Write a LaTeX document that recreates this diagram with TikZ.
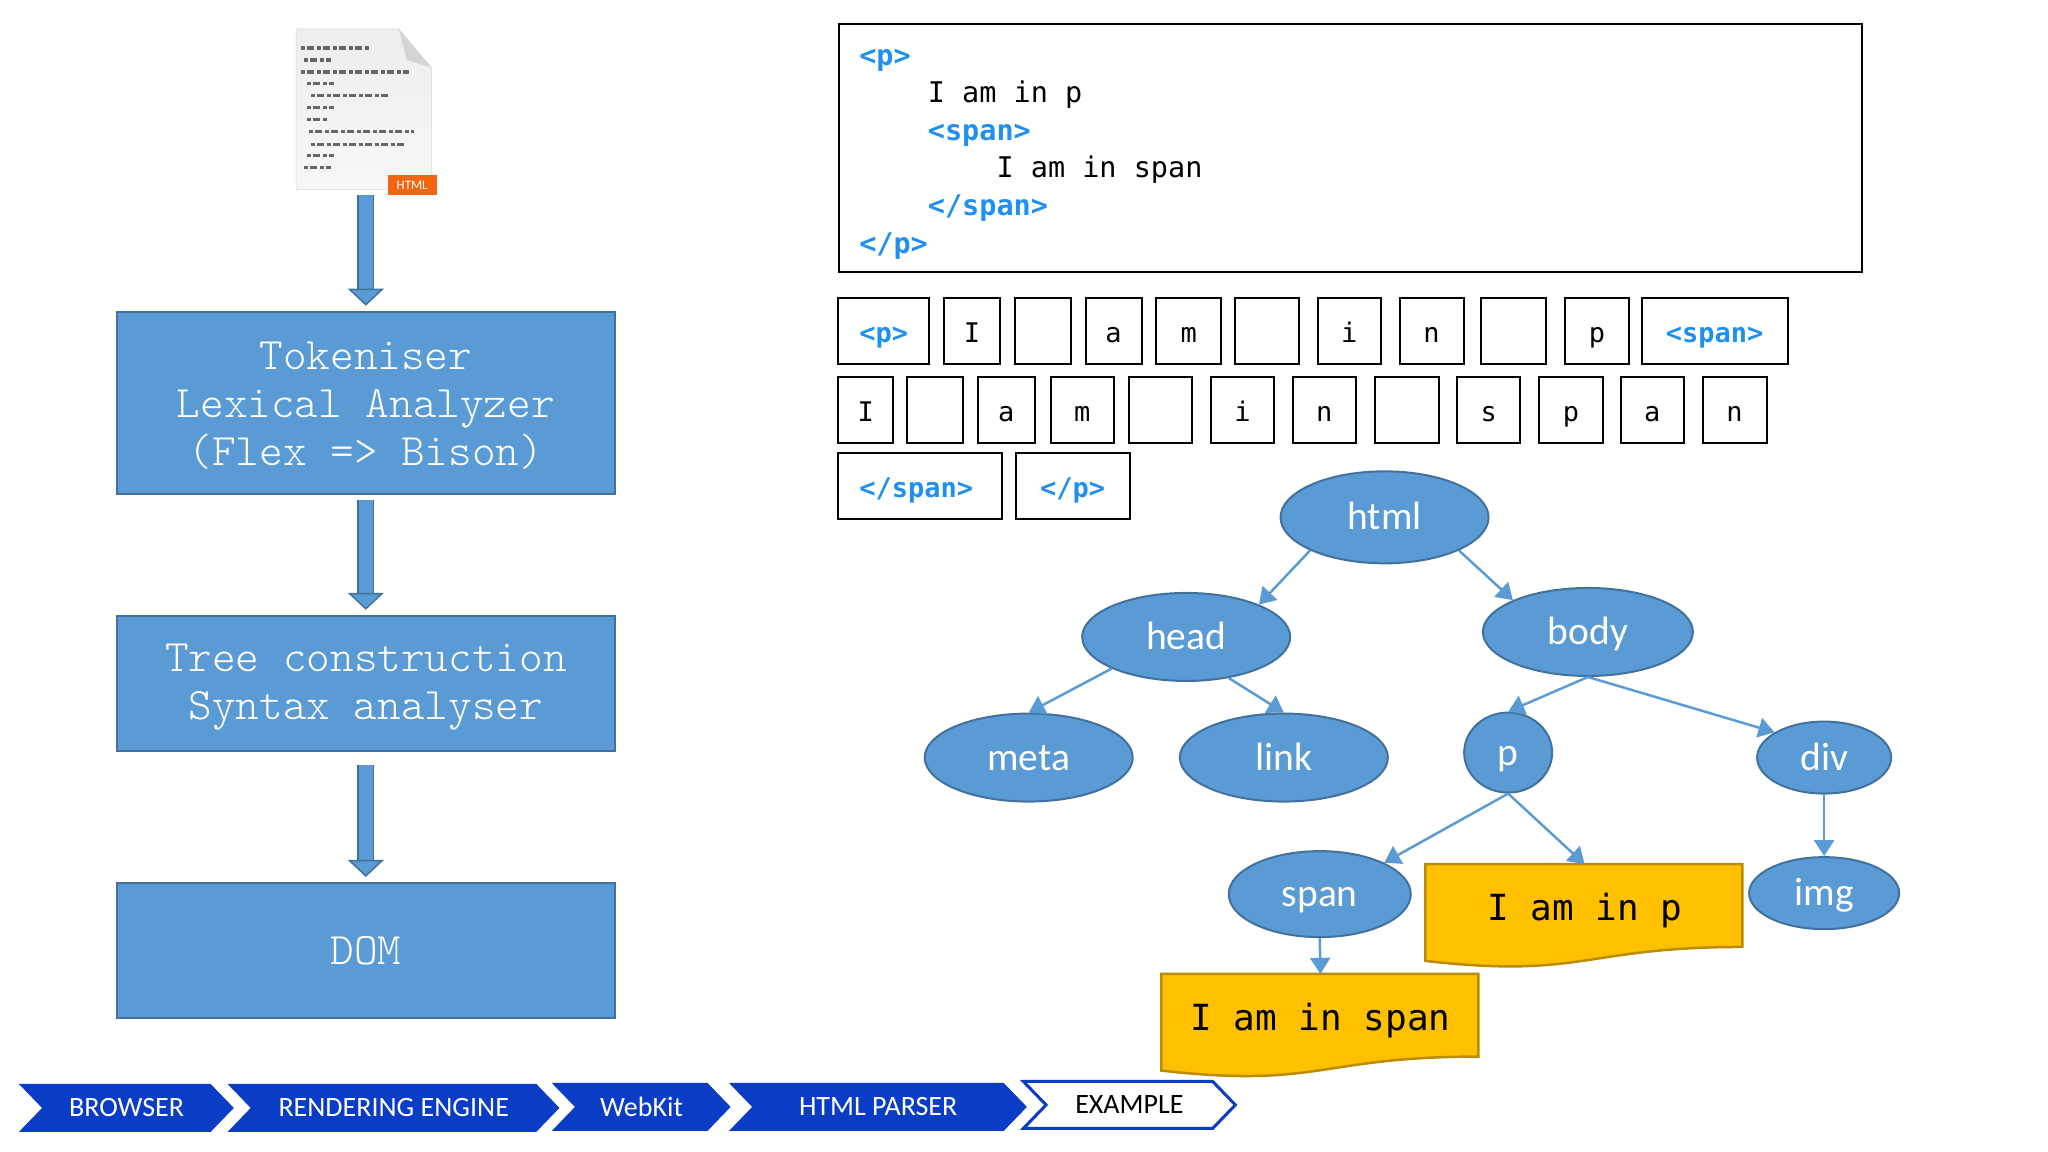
\documentclass[tikz,border=0pt]{standalone}
\usepackage{fontspec}
\usetikzlibrary{arrows.meta,shapes.geometric,shapes.symbols}
\newfontfamily\htmlfontA{DejaVu Sans Mono}
\newfontfamily\htmlfontB{Carlito}
\newfontfamily\htmlfontC{Latin Modern Mono Light}
\begin{document}
\begin{tikzpicture}[x=0.9968pt,y=-0.9968pt,
	stagebox/.style={draw=custcol_41_71_9c, line width=2.0pt, fill=custcol_5b_9b_d5, text=white, inner sep=0, align=center, font=\htmlfontC\fontsize{45pt}{48pt}\selectfont},
	stageflow/.style={draw=custcol_41_71_9c, line width=1.5pt, double=custcol_5b_9b_d5, double distance=14pt, -{Triangle[length=17pt,width=36pt,line width=1.5pt,fill=custcol_5b_9b_d5]}},
	token/.style={draw=black, line width=2.0pt, minimum height=66pt, inner sep=0, anchor=west, text height=23pt, text depth=0pt, font=\htmlfontA\fontsize{27pt}{27pt}\selectfont},
	treenode/.style={ellipse, draw=custcol_41_71_9c, line width=2.0pt, fill=custcol_5b_9b_d5, text=white, inner sep=0, text height=26pt, text depth=1pt, font=\htmlfontB\fontsize{39.5pt}{39.5pt}\selectfont},
	treeedge/.style={draw=custcol_5b_9b_d5, line width=2.5pt, -{Triangle[length=16pt,width=20pt]}},
	textleaf/.style={draw=custcol_bc_8c_00, line width=2.5pt, fill=custcol_ff_c0_00},
	leaflabel/.style={inner sep=0, anchor=north west, text height=29pt, text depth=0pt, font=\htmlfontA\fontsize{36pt}{36pt}\selectfont},
	crumb/.style={signal, signal from=west, signal to=east, signal pointer angle=92, inner sep=0, minimum height=47pt, draw=custcol_0b_3c_c5, line width=1.0pt, fill=custcol_0b_3c_c5, text=white, font=\htmlfontB\fontsize{28pt}{28pt}\selectfont}]
	\definecolor{custcol_5b_9b_d5}{RGB}{91, 155, 213}
	\definecolor{custcol_41_71_9c}{RGB}{65, 113, 156}
	\definecolor{custcol_bc_8c_00}{RGB}{188, 140, 0}
	\definecolor{custcol_ff_c0_00}{RGB}{255, 192, 0}
	\definecolor{custcol_0b_3c_c5}{RGB}{11, 60, 197}
	\definecolor{custcol_20_90_f0}{RGB}{32, 144, 240}
	\definecolor{custcol_f0_66_12}{RGB}{240, 102, 18}
	\def\tagtext#1{\textcolor{custcol_20_90_f0}{\bfseries #1}}
	\useasboundingbox (0.0,0.0) rectangle (2054.6,1155.7);
	% html file icon
	\shade [top color=white!93!black, bottom color=white!97!black, draw=white!85!black, line width=0.5pt]  (297.0,29.0) -- (400.0,29.0) -- (433.0,68.0) -- (433.0,190.0) -- (297.0,190.0) -- cycle;
	\fill [white!83!black]  (400.0,29.0) -- (433.0,68.0) -- (408.0,60.0) -- cycle;
	\draw [line width=3.5pt, white!40!black, dash pattern=on 4pt off 2pt on 7pt off 3pt ]  (302.0,48.0) -- (372.0,48.0) ;
	\draw [line width=3.5pt, white!40!black, dash pattern=on 4pt off 2pt on 7pt off 3pt ]  (305.0,60.0) -- (332.0,60.0) ;
	\draw [line width=3.5pt, white!40!black, dash pattern=on 4pt off 2pt on 7pt off 3pt ]  (302.0,72.0) -- (410.0,72.0) ;
	\draw [line width=3.5pt, white!40!black, dash pattern=on 4pt off 2pt on 7pt off 3pt ]  (308.0,84.0) -- (335.0,84.0) ;
	\draw [line width=3.5pt, white!40!black, dash pattern=on 4pt off 2pt on 7pt off 3pt ]  (312.0,96.0) -- (390.0,96.0) ;
	\draw [line width=3.5pt, white!40!black, dash pattern=on 4pt off 2pt on 7pt off 3pt ]  (308.0,108.0) -- (335.0,108.0) ;
	\draw [line width=3.5pt, white!40!black, dash pattern=on 4pt off 2pt on 7pt off 3pt ]  (308.0,120.0) -- (330.0,120.0) ;
	\draw [line width=3.5pt, white!40!black, dash pattern=on 4pt off 2pt on 7pt off 3pt ]  (310.0,132.0) -- (415.0,132.0) ;
	\draw [line width=3.5pt, white!40!black, dash pattern=on 4pt off 2pt on 7pt off 3pt ]  (312.0,145.0) -- (405.0,145.0) ;
	\draw [line width=3.5pt, white!40!black, dash pattern=on 4pt off 2pt on 7pt off 3pt ]  (308.0,156.0) -- (335.0,156.0) ;
	\draw [line width=3.5pt, white!40!black, dash pattern=on 4pt off 2pt on 7pt off 3pt ]  (305.0,168.0) -- (332.0,168.0) ;
	\node[fill=custcol_f0_66_12, minimum width=49pt, minimum height=20pt, inner sep=0, text=white, font=\htmlfontB\fontsize{13pt}{13pt}\selectfont] (htmlbadge) at (413.5,186.0) {HTML};
	\coordinate (fileend) at (367.0,196.0);
	% parser stages
	\node[stagebox, minimum width=498pt, minimum height=182pt] (tokeniser) at (367.0,404.0) {\rule{0pt}{33pt}Tokeniser\\Lexical Analyzer\\(Flex => Bison)};
	\node[stagebox, minimum width=498pt, minimum height=135pt] (treecons) at (367.0,685.5) {\rule{0pt}{35pt}Tree construction\\Syntax analyser};
	\node[stagebox, minimum width=498pt, minimum height=135pt] (dom) at (367.0,953.5) {DOM};
	\draw [stageflow] (fileend) -- ([yshift=5pt]tokeniser.north);
	\draw [stageflow] ([yshift=-5pt]tokeniser.south) -- ([yshift=5pt]treecons.north);
	\draw [stageflow] ([yshift=-13pt]treecons.south) -- ([yshift=5pt]dom.north);
	% source box
	\node[draw=black, line width=2.0pt, minimum width=1023pt, minimum height=248pt, inner sep=0, text width=982pt, align=flush left, font=\htmlfontA\fontsize{28.5pt}{37.6pt}\selectfont] (sourcebox) at (1354.6,148.0) {\rule{0pt}{29pt}\tagtext{<p>}\\\phantom{0000}I am in p\\\phantom{0000}\tagtext{<span>}\\\phantom{00000000}I am in span\\\phantom{0000}\tagtext{</span>}\\\tagtext{</p>}};
	% tokens
	\node[token, minimum width=91pt] (tokA) at (840.0,332.0) {\tagtext{<p>}};
	\node[token, minimum width=56pt] (tokB) at (946.0,332.0) {I};
	\node[token, minimum width=56pt] (tokC) at (1017.0,332.0) {};
	\node[token, minimum width=56pt] (tokD) at (1088.0,332.0) {a};
	\node[token, minimum width=65pt] (tokE) at (1159.0,332.0) {m};
	\node[token, minimum width=64pt] (tokF) at (1238.0,332.0) {};
	\node[token, minimum width=63pt] (tokG) at (1321.0,332.0) {i};
	\node[token, minimum width=64pt] (tokH) at (1403.0,332.0) {n};
	\node[token, minimum width=65pt] (tokI) at (1485.0,332.0) {};
	\node[token, minimum width=64pt] (tokJ) at (1569.0,332.0) {p};
	\node[token, minimum width=146pt] (tokK) at (1646.0,332.0) {\tagtext{<span>}};
	\node[token, minimum width=55pt] (tokL) at (840.0,411.0) {I};
	\node[token, minimum width=56pt] (tokM) at (909.0,411.0) {};
	\node[token, minimum width=57pt] (tokN) at (980.0,411.0) {a};
	\node[token, minimum width=63pt] (tokO) at (1053.0,411.0) {m};
	\node[token, minimum width=63pt] (tokP) at (1132.0,411.0) {};
	\node[token, minimum width=63pt] (tokQ) at (1214.0,411.0) {i};
	\node[token, minimum width=63pt] (tokR) at (1296.0,411.0) {n};
	\node[token, minimum width=64pt] (tokS) at (1378.0,411.0) {};
	\node[token, minimum width=63pt] (tokT) at (1461.0,411.0) {s};
	\node[token, minimum width=64pt] (tokU) at (1543.0,411.0) {p};
	\node[token, minimum width=63pt] (tokV) at (1625.0,411.0) {a};
	\node[token, minimum width=64pt] (tokW) at (1707.0,411.0) {n};
	\node[token, minimum width=164pt] (tokX) at (840.0,488.0) {\tagtext{</span>}\kern8pt};
	\node[token, minimum width=114pt] (tokY) at (1018.0,488.0) {\tagtext{</p>}};
	% dom tree
	\node[treenode, minimum width=208pt, minimum height=92pt] (html) at (1389.0,519.0) {html};
	\node[treenode, minimum width=208pt, minimum height=88pt] (head) at (1190.0,639.0) {head};
	\node[treenode, minimum width=210pt, minimum height=88pt] (body) at (1593.0,634.0) {body};
	\node[treenode, minimum width=208pt, minimum height=88pt] (meta) at (1032.0,760.0) {meta};
	\node[treenode, minimum width=208pt, minimum height=88pt] (link) at (1288.0,760.0) {link};
	\node[treenode, minimum width=88pt, minimum height=80pt] (p) at (1513.0,755.0) {p};
	\node[treenode, minimum width=134pt, minimum height=72pt] (div) at (1830.0,760.0) {div};
	\node[treenode, minimum width=150pt, minimum height=72pt] (img) at (1830.0,896.0) {img};
	\node[treenode, minimum width=182pt, minimum height=86pt] (span) at (1324.0,897.0) {span};
	\draw [textleaf]  (1430.0,867.0) -- (1748.0,867.0) -- (1748.0,950.0) .. controls (1589.0,950.0) and (1589.0,982.0) .. (1430.0,964.0) -- cycle;
	\node[leaflabel, minimum width=318pt, minimum height=83pt, align=center] (inp) at (1430.0,867.0) {I am in p};
	\draw [textleaf]  (1165.0,977.0) -- (1483.0,977.0) -- (1483.0,1060.0) .. controls (1324.0,1060.0) and (1324.0,1092.0) .. (1165.0,1074.0) -- cycle;
	\node[leaflabel, minimum width=318pt, minimum height=83pt, align=center] (inspan) at (1165.0,977.0) {I am in span};
	\draw [treeedge] (html.204) -- (head.24);
	\draw [treeedge] (html.336) -- (body.157);
	\draw [treeedge] (head.203) -- (meta.90);
	\draw [treeedge] (head.316) -- (link.90);
	\draw [treeedge] (body.south) -- (p.90);
	\draw [treeedge] (body.south) -- (div.153);
	\draw [treeedge] (p.south) -- (span.26);
	\draw [treeedge] (p.south) -- (inp.north);
	\draw [treeedge] (div.south) -- (img.north);
	\draw [treeedge] (span.south) -- (inspan.north);
	% breadcrumb
	\node[crumb, minimum width=213pt] (browser) at (127.0,1111.5) {BROWSER};
	\node[crumb, minimum width=330pt] (engine) at (395.0,1111.5) {RENDERING ENGINE};
	\node[crumb, minimum width=177pt] (webkit) at (643.5,1110.5) {WebKit};
	\node[crumb, minimum width=296pt] (parser) at (881.0,1110.5) {HTML PARSER};
	\node[crumb, minimum width=212pt, fill=white, text=black, line width=3.0pt] (example) at (1133.0,1108.5) {EXAMPLE};
\end{tikzpicture}
\end{document}
